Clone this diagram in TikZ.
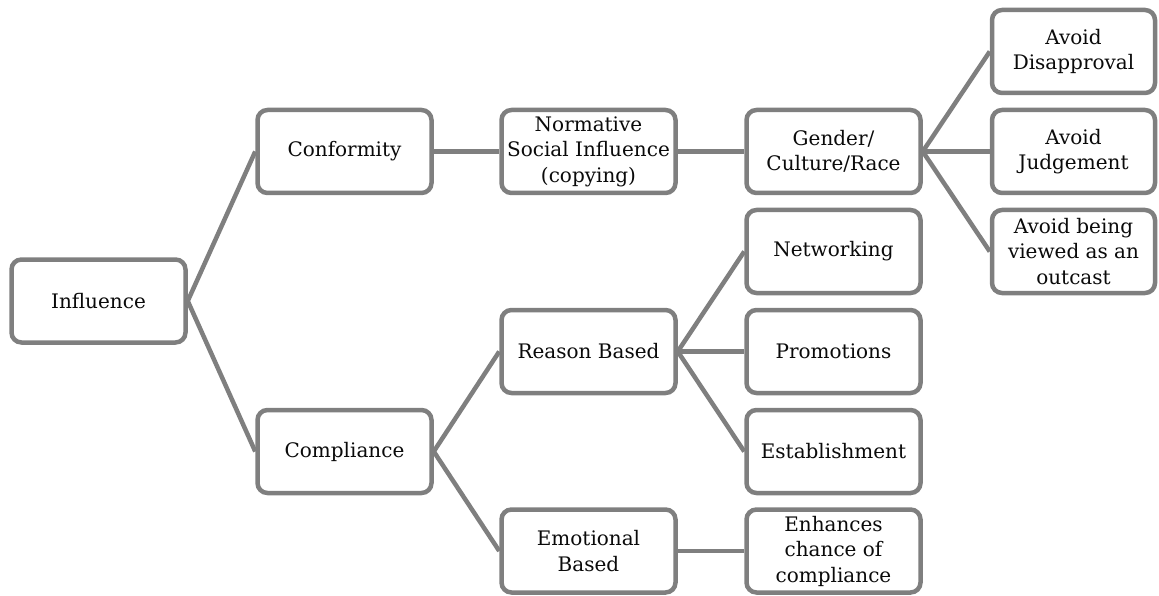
\documentclass[tikz,border=0pt]{standalone}
\usepackage{fontspec}
\setmainfont{DejaVu Serif}
\definecolor{boxgray}{HTML}{7F7F7F}
\definecolor{txt}{HTML}{0A0A0A}
\tikzset{
  box/.style={draw=boxgray, line width=4.5pt, rounded corners=10pt, fill=white,
    minimum height=83pt, inner sep=2pt, align=center, text=txt,
    font=\fontsize{20}{25.5}\selectfont},
  wbox/.style={box, minimum width=174pt},
  nbox/.style={box, minimum width=163pt},
  conn/.style={draw=boxgray, line width=4.5pt}
}
\begin{document}
\begin{tikzpicture}[x=1pt,y=-1pt]
\useasboundingbox (0,0) rectangle (1159,596);
\node[wbox] (inf) at (98.5,301) {Influence};
\node[wbox] (conf) at (344.5,151.5) {Conformity};
\node[wbox] (comp) at (344.5,451.5) {Compliance};
\node[wbox] (norm) at (588.5,151.5) {Normative\\Social Influence\\(copying)};
\node[wbox] (reas) at (588.5,351.5) {Reason Based};
\node[wbox] (emo) at (588.5,551) {Emotional\\Based};
\node[wbox] (gend) at (833.5,151.5) {Gender/\\Culture/Race};
\node[wbox] (netw) at (833.5,251.5) {Networking};
\node[wbox] (prom) at (833.5,351.5) {Promotions};
\node[wbox] (esta) at (833.5,451.5) {Establishment};
\node[wbox] (enha) at (833.5,551) {Enhances\\chance of\\compliance};
\node[nbox] (disa) at (1073.5,51.5) {Avoid\\Disapproval};
\node[nbox] (judg) at (1073.5,151.5) {Avoid\\Judgement};
\node[nbox] (outc) at (1073.5,251.5) {Avoid being\\viewed as an\\outcast};
\draw[conn] (inf.east) -- (conf.west);
\draw[conn] (inf.east) -- (comp.west);
\draw[conn] (conf.east) -- (norm.west);
\draw[conn] (norm.east) -- (gend.west);
\draw[conn] (gend.east) -- (disa.west);
\draw[conn] (gend.east) -- (judg.west);
\draw[conn] (gend.east) -- (outc.west);
\draw[conn] (comp.east) -- (reas.west);
\draw[conn] (comp.east) -- (emo.west);
\draw[conn] (reas.east) -- (netw.west);
\draw[conn] (reas.east) -- (prom.west);
\draw[conn] (reas.east) -- (esta.west);
\draw[conn] (emo.east) -- (enha.west);
\end{tikzpicture}
\end{document}
